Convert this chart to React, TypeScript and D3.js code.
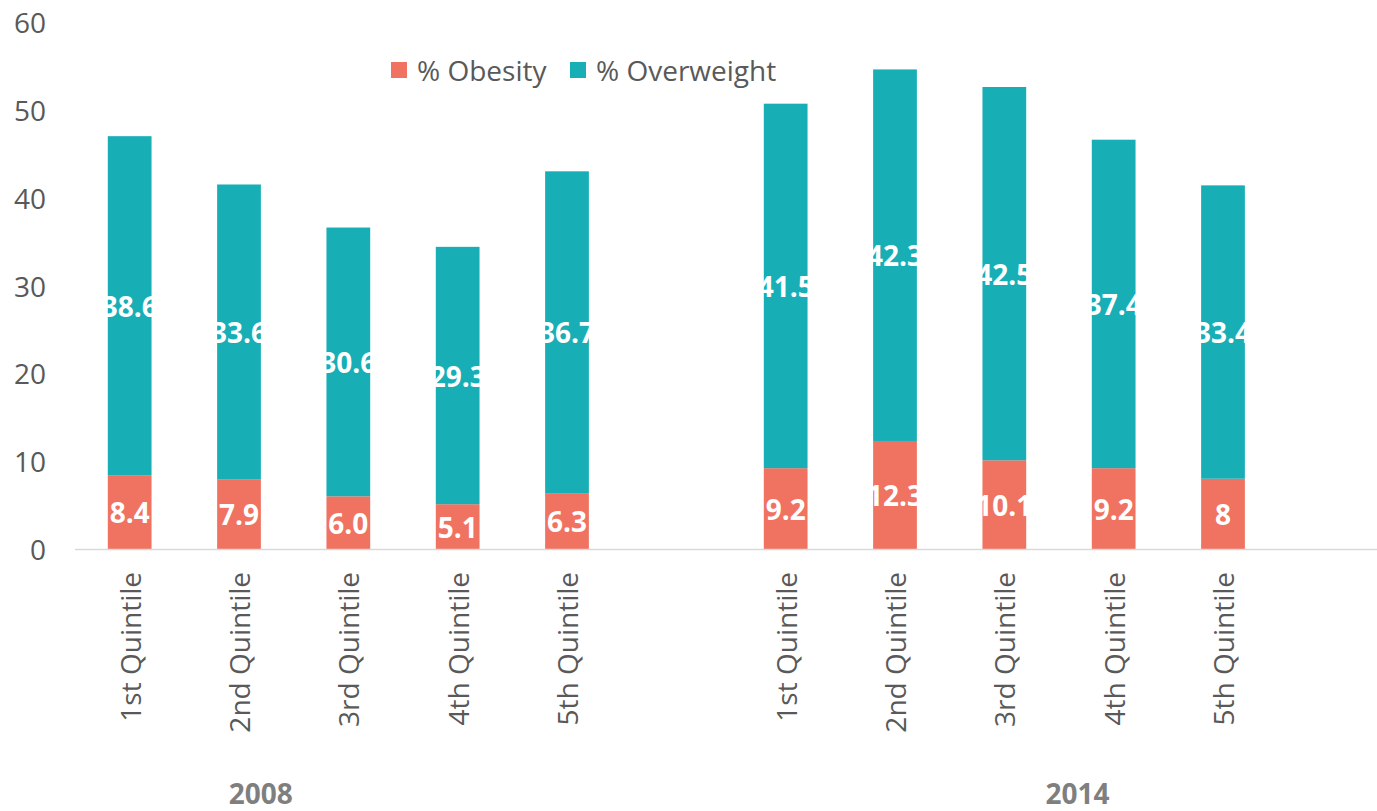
import React from "react";
import * as d3 from "d3";

const years = ["2008", "2014"];
const quintiles = ["1st Quintile", "2nd Quintile", "3rd Quintile", "4th Quintile", "5th Quintile"];
const obesity2008 = [8.4, 7.9, 6.0, 5.1, 6.3];
const overweight2008 = [38.6, 33.6, 30.6, 29.3, 36.7];
const obesity2014 = [9.2, 12.3, 10.1, 9.2, 8];
const overweight2014 = [41.5, 42.3, 42.5, 37.4, 33.4];
const yTicks = [0, 10, 20, 30, 40, 50, 60];
const seriesNames = ["% Obesity", "% Overweight"];

const W = 1377;
const H = 811;
const C_OB = "#F07261";
const C_OW = "#17AEB6";
const GREY = "#595959";
const FONT = "'Open Sans', sans-serif";
const FS = 28;

type Row = { key: string; label: string; ob: number; ow: number; obL: string; owL: string };

export default function App() {
  const rows: Row[] = [];
  quintiles.forEach((q, i) =>
    rows.push({ key: "a" + i, label: q, ob: obesity2008[i], ow: overweight2008[i], obL: obesity2008[i].toFixed(1), owL: overweight2008[i].toFixed(1) })
  );
  const domain = [...rows.map((r) => r.key), "gap1"];
  const rows2: Row[] = quintiles.map((q, i) => ({ key: "b" + i, label: q, ob: obesity2014[i], ow: overweight2014[i], obL: String(obesity2014[i]), owL: String(overweight2014[i]) }));
  rows.push(...rows2);
  domain.push(...rows2.map((r) => r.key), "gap2");

  const x = d3.scaleBand<string>().domain(domain).range([75, 1387]).paddingInner(0.6).paddingOuter(0.3);
  const y = d3.scaleLinear().domain([0, 60]).range([549, 22]);
  const bw = x.bandwidth();
  const step = x.step();

  const groupLabelX = [75 + step * 1.7, 75 + step * 9.17];

  return (
    <svg width={W} height={H} style={{ position: "absolute", left: 0, top: 0, background: "#fff" }} fontFamily={FONT}>
      {yTicks.map((t) => (
        <text key={t} x={46} y={y(t)} textAnchor="end" dominantBaseline="central" fontSize={FS} fill={GREY}>
          {t}
        </text>
      ))}
      {rows.map((r) => {
        const x0 = x(r.key)!;
        const cx = x0 + bw / 2;
        return (
          <g key={r.key}>
            <rect x={x0} y={y(r.ob)} width={bw} height={y(0) - y(r.ob)} fill={C_OB} />
            <rect x={x0} y={y(r.ob + r.ow)} width={bw} height={y(r.ob) - y(r.ob + r.ow)} fill={C_OW} />
            <text x={cx} y={y(r.ob / 2)} textAnchor="middle" dominantBaseline="central" fontSize={FS} fontWeight="bold" fill="#fff">
              {r.obL}
            </text>
            <text x={cx} y={y(r.ob + r.ow / 2)} textAnchor="middle" dominantBaseline="central" fontSize={FS} fontWeight="bold" fill="#fff">
              {r.owL}
            </text>
            <text
              transform={`translate(${cx},572) rotate(-90)`}
              textAnchor="end"
              dominantBaseline="central"
              fontSize={FS}
              fill={GREY}
            >
              {r.label}
            </text>
          </g>
        );
      })}
      <line x1={75} x2={W} y1={549.5} y2={549.5} stroke="#D9D9D9" strokeWidth={1.5} />
      {years.map((yr, i) => (
        <text key={yr} x={groupLabelX[i]} y={793} textAnchor="middle" dominantBaseline="central" fontSize={FS} fontWeight="bold" fill="#7F7F7F">
          {yr}
        </text>
      ))}
      {seriesNames.map((s, i) => {
        const lx = [391, 570][i];
        return (
          <g key={s}>
            <rect x={lx} y={62} width={16} height={16} fill={i === 0 ? C_OB : C_OW} />
            <text x={lx + 26} y={70} dominantBaseline="central" fontSize={FS} fill={GREY}>
              {s}
            </text>
          </g>
        );
      })}
    </svg>
  );
}
